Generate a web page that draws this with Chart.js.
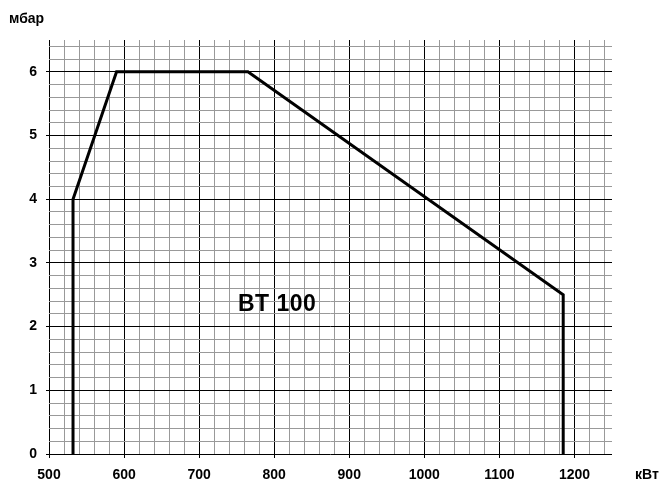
<!DOCTYPE html>
<html>
<head>
<meta charset="utf-8">
<title>BT 100</title>
<script src="https://cdn.jsdelivr.net/npm/chart.js@4/dist/chart.umd.min.js"></script>
<style>
    html, body { margin: 0; padding: 0; background: #fff; }
    canvas { display: block; }
</style>
</head>
<body>
<canvas id="rangeChart" width="662" height="482"></canvas>
<script>
// working range of the burner: power (kW) vs pressure (mbar)
const powerKw = [532, 532, 590, 765, 1185, 1185];
const pressureMbar = [0, 4, 6, 6, 2.5, 0];

// labelled ticks
const xTickLabels = [500, 600, 700, 800, 900, 1000, 1100, 1200];
const yTickLabels = [0, 1, 2, 3, 4, 5, 6];

const FONT = "'Liberation Sans', Arial, sans-serif";

const isMajor = function (v, list) {
    return list.some((t) => Math.abs(t - v) < 1e-6);
};

// Russian labels and the model name drawn on top
const labelsPlugin = {
    id: "labels",
    afterDraw(chart) {
        const ctx = chart.ctx;
        const x = chart.scales.x;
        const y = chart.scales.y;
        ctx.save();
        ctx.fillStyle = "#000";
        ctx.textBaseline = "middle";
        ctx.font = "bold 14px " + FONT;
        ctx.textAlign = "left";
        ctx.fillText("мбар", 9, 19);
        ctx.fillText("кВт", 635, 475);
        ctx.font = "bold 23px " + FONT;
        ctx.letterSpacing = "0.5px";
        ctx.textAlign = "center";
        ctx.fillText("BT 100", x.getPixelForValue(804), y.getPixelForValue(2.35));
        ctx.restore();
    },
};

const points = powerKw.map((p, i) => ({ x: p, y: pressureMbar[i] }));

new Chart(document.getElementById("rangeChart"), {
    type: "line",
    data: {
        datasets: [
            {
                data: points,
                borderColor: "#000",
                borderWidth: 3,
                pointRadius: 0,
                tension: 0,
                fill: false,
            },
        ],
    },
    options: {
        responsive: false,
        animation: false,
        devicePixelRatio: 1,
        layout: { padding: { top: 40, right: 50, left: 0, bottom: 0 } },
        plugins: {
            legend: { display: false },
            tooltip: { enabled: false },
        },
        scales: {
            x: {
                type: "linear",
                min: 500,
                max: 1250,
                afterBuildTicks(scale) {
                    const ticks = [];
                    for (let v = 500; v <= 1240; v += 20) ticks.push({ value: v });
                    scale.ticks = ticks;
                },
                afterFit(scale) {
                    scale.height = 28;
                },
                border: { display: false },
                grid: {
                    color: (c) => (isMajor(c.tick.value, xTickLabels) ? "#000" : "#999"),
                    tickColor: (c) => (isMajor(c.tick.value, xTickLabels) ? "#000" : "rgba(0,0,0,0)"),
                    tickLength: 4,
                    lineWidth: 1,
                },
                ticks: {
                    autoSkip: false,
                    maxRotation: 0,
                    padding: 9,
                    color: "#000",
                    font: { family: FONT, size: 14, weight: "bold" },
                    callback: (v) => (isMajor(v, xTickLabels) ? String(v) : ""),
                },
            },
            y: {
                type: "linear",
                min: 0,
                max: 6.5,
                afterBuildTicks(scale) {
                    const ticks = [];
                    for (let i = 0; i <= 32; i++) ticks.push({ value: Math.round(i * 2) / 10 });
                    scale.ticks = ticks;
                },
                afterFit(scale) {
                    scale.width = 49;
                },
                border: { display: false },
                grid: {
                    color: (c) => (isMajor(c.tick.value, yTickLabels) ? "#000" : "#999"),
                    tickColor: (c) => (isMajor(c.tick.value, yTickLabels) ? "#000" : "rgba(0,0,0,0)"),
                    tickLength: 3,
                    lineWidth: 1,
                },
                ticks: {
                    autoSkip: false,
                    padding: 9,
                    color: "#000",
                    font: { family: FONT, size: 14, weight: "bold" },
                    callback: (v) => (isMajor(v, yTickLabels) ? String(v) : ""),
                },
            },
        },
    },
    plugins: [labelsPlugin],
});
</script>
</body>
</html>
